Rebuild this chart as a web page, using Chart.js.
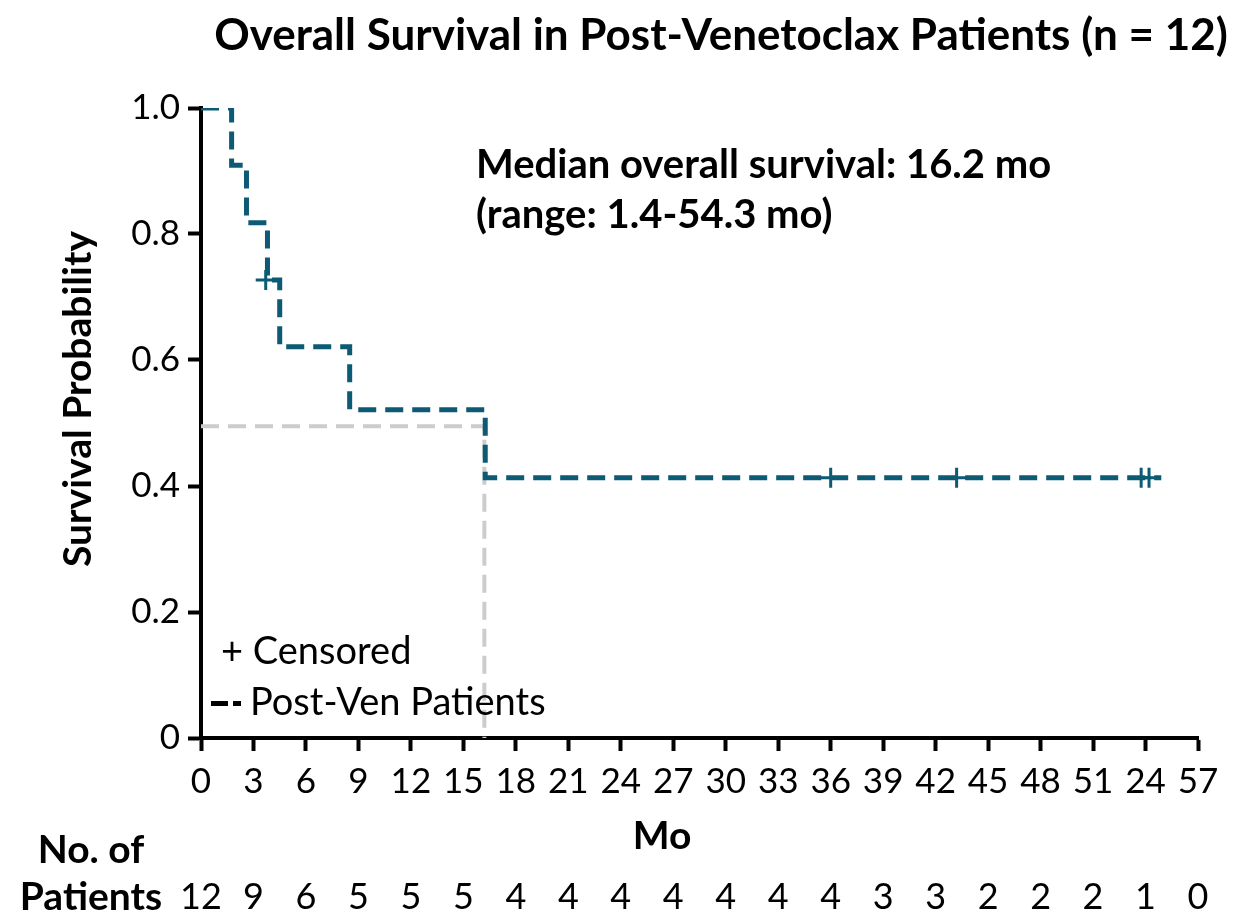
<!DOCTYPE html>
<html>
<head>
    <title>Overall Survival in Post-Venetoclax Patients</title>
    <script src="https://cdn.jsdelivr.net/npm/chart.js"></script>
    <style>
        body { margin: 0; background: #ffffff; }
        #wrap { width: 1235px; height: 914px; }
    </style>
</head>
<body>
<div id="wrap"><canvas id="kmChart" width="1235" height="914"></canvas></div>
<script>
// Kaplan-Meier curve (months, survival probability)
const kmTimes = [0, 1.75, 2.6, 3.8, 4.5, 8.5, 16.25, 54.9];
const kmSurvival = [1.0, 0.909, 0.818, 0.727, 0.621, 0.521, 0.413, 0.413];

// censored patients
const censorTimes = [3.7, 36.0, 43.2, 53.75, 54.2];
const censorSurvival = [0.727, 0.413, 0.413, 0.413, 0.413];

// median guide line
const medianTime = 16.2;
const medianLevel = 0.495;

// axis tick labels (as printed on the original)
const xTickLabels = ['0', '3', '6', '9', '12', '15', '18', '21', '24', '27', '30', '33', '36', '39', '42', '45', '48', '51', '24', '57'];
const yTickLabels = ['0', '0.2', '0.4', '0.6', '0.8', '1.0'];

// number at risk under each x tick
const atRisk = [12, 9, 6, 5, 5, 5, 4, 4, 4, 4, 4, 4, 4, 3, 3, 2, 2, 2, 1, 0];

const FONT = 'Lato, "Open Sans", sans-serif';
const TEAL = '#0c5a73';

// extra text: title, annotation, legend, axis titles, at-risk table
const extras = {
    id: 'extras',
    afterDraw(chart) {
        const ctx = chart.ctx;
        const x = chart.scales.x;
        ctx.save();
        ctx.fillStyle = '#000';
        ctx.textBaseline = 'middle';

        ctx.font = 'bold 44px ' + FONT;
        ctx.textAlign = 'center';
        ctx.fillText('Overall Survival in Post-Venetoclax Patients (n = 12)', 721, 36);

        ctx.font = 'bold 40px ' + FONT;
        ctx.textAlign = 'left';
        ctx.fillText('Median overall survival: 16.2 mo', 476, 165);
        ctx.fillText('(range: 1.4-54.3 mo)', 476, 215);

        // legend
        ctx.font = '38px ' + FONT;
        ctx.fillText('+ Censored', 221, 652);
        ctx.fillText('Post-Ven Patients', 250, 703);
        ctx.fillRect(211, 701, 17, 5);
        ctx.fillRect(233, 701, 8, 5);

        // axis titles
        ctx.font = 'bold 39px ' + FONT;
        ctx.textAlign = 'center';
        ctx.fillText('Mo', 662, 836);
        ctx.save();
        ctx.translate(78, 399);
        ctx.rotate(-Math.PI / 2);
        ctx.fillText('Survival Probability', 0, 0);
        ctx.restore();

        // number at risk
        ctx.fillText('No. of', 91, 850);
        ctx.fillText('Patients', 91, 897);
        ctx.font = '36px ' + FONT;
        atRisk.forEach((n, i) => {
            ctx.fillText(String(n), x.getPixelForValue(i * 3), 897);
        });
        ctx.restore();
    }
};

new Chart(document.getElementById('kmChart'), {
    type: 'scatter',
    data: {
        datasets: [{
            label: 'Median',
            data: [{x: 0, y: medianLevel}, {x: medianTime, y: medianLevel}, {x: medianTime, y: 0}],
            showLine: true,
            borderColor: '#cccccc',
            borderWidth: 4,
            borderDash: [18, 9],
            pointRadius: 0,
            order: 3
        },
        {
            label: 'Post-Ven Patients',
            data: kmTimes.map((t, i) => ({x: t, y: kmSurvival[i]})),
            showLine: true,
            stepped: 'before',
            borderColor: TEAL,
            borderWidth: 5,
            borderDash: [18, 9],
            pointRadius: 0,
            order: 2
        },
        {
            label: 'Censored',
            data: censorTimes.map((t, i) => ({x: t, y: censorSurvival[i]})),
            pointStyle: 'cross',
            pointRadius: 10,
            pointBorderWidth: 3,
            borderColor: TEAL,
            backgroundColor: TEAL,
            order: 1
        }]
    },
    options: {
        responsive: false,
        animation: false,
        layout: { padding: { top: 108, right: 37, left: 0, bottom: 0 } },
        plugins: {
            legend: { display: false },
            tooltip: { enabled: false }
        },
        scales: {
            x: {
                type: 'linear',
                min: 0,
                max: 57,
                afterFit: s => { s.height = 176; },
                afterBuildTicks: s => { s.ticks = xTickLabels.map((l, i) => ({value: i * 3})); },
                ticks: {
                    callback: (v, i) => xTickLabels[i],
                    color: '#000',
                    font: { size: 35, family: FONT },
                    padding: 10,
                    maxRotation: 0,
                    autoSkip: false
                },
                grid: { drawOnChartArea: false, drawTicks: true, tickLength: 13, tickWidth: 4, tickColor: '#000' },
                border: { display: true, color: '#000', width: 4 }
            },
            y: {
                type: 'linear',
                min: 0,
                max: 1,
                afterFit: s => { s.width = 201; },
                afterBuildTicks: s => { s.ticks = yTickLabels.map((l, i) => ({value: i * 0.2})); },
                ticks: {
                    callback: (v, i) => yTickLabels[i],
                    color: '#000',
                    font: { size: 35, family: FONT },
                    padding: 8
                },
                grid: { drawOnChartArea: false, drawTicks: true, tickLength: 13, tickWidth: 4, tickColor: '#000' },
                border: { display: true, color: '#000', width: 4 }
            }
        }
    },
    plugins: [extras]
});
</script>
</body>
</html>
